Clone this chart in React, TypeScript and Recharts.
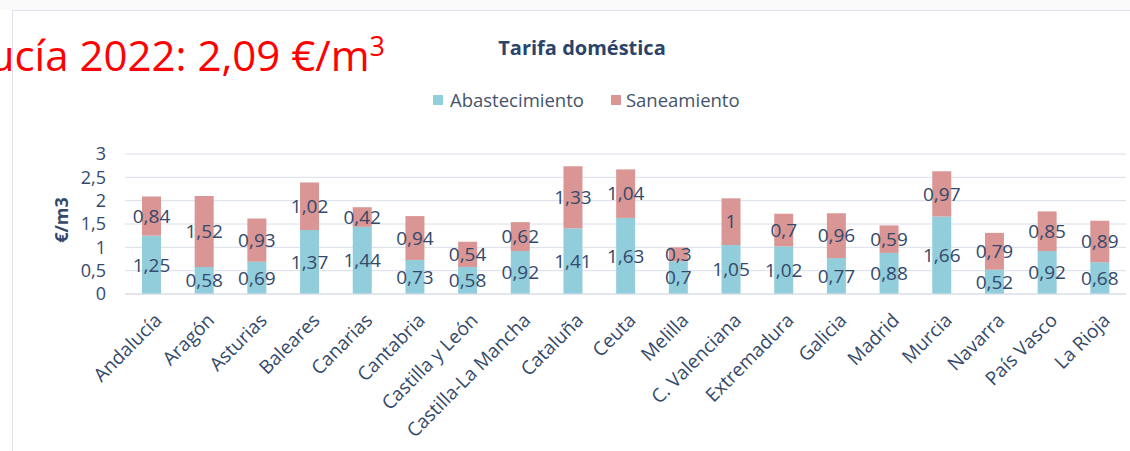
import React from "react";
import { Bar, BarChart, CartesianGrid, LabelList, Legend, XAxis, YAxis } from "recharts";

const regiones = [
  "Andalucía",
  "Aragón",
  "Asturias",
  "Baleares",
  "Canarias",
  "Cantabria",
  "Castilla y León",
  "Castilla-La Mancha",
  "Cataluña",
  "Ceuta",
  "Melilla",
  "C. Valenciana",
  "Extremadura",
  "Galicia",
  "Madrid",
  "Murcia",
  "Navarra",
  "País Vasco",
  "La Rioja",
];

const abastecimiento = [
  1.25, 0.58, 0.69, 1.37, 1.44, 0.73, 0.58, 0.92, 1.41, 1.63, 0.7, 1.05, 1.02,
  0.77, 0.88, 1.66, 0.52, 0.92, 0.68,
];

const saneamiento = [
  0.84, 1.52, 0.93, 1.02, 0.42, 0.94, 0.54, 0.62, 1.33, 1.04, 0.3, 1, 0.7,
  0.96, 0.59, 0.97, 0.79, 0.85, 0.89,
];

const yTicks = [0, 0.5, 1, 1.5, 2, 2.5, 3];

const AZUL = "#92cddc";
const ROSA = "#d99694";
const NAVY = "#34496b";
const FONT = "'Open Sans', sans-serif";

const data = regiones.map((region, i) => ({
  region,
  abastecimiento: abastecimiento[i],
  saneamiento: saneamiento[i],
}));

const coma = (v: any) => String(v).replace(".", ",");

const LegendContent = () => (
  <div
    style={{
      display: "flex",
      alignItems: "center",
      fontFamily: FONT,
      fontSize: 18.5,
      color: "#44546a",
      lineHeight: "22px",
    }}
  >
    <span style={{ width: 10, height: 10, background: AZUL, marginRight: 7 }} />
    <span style={{ marginRight: 27 }}>Abastecimiento</span>
    <span style={{ width: 10, height: 10, background: ROSA, marginRight: 5 }} />
    <span>Saneamiento</span>
  </div>
);

export default function App() {
  return (
    <div
      style={{
        position: "absolute",
        left: 0,
        top: 0,
        width: 1130,
        height: 451,
        background: "#fff",
        overflow: "hidden",
        fontFamily: FONT,
      }}
    >
      <div
        style={{
          position: "absolute",
          left: 0,
          top: 0,
          width: 1130,
          height: 10,
          background: "#fafafa",
        }}
      />
      <div
        style={{
          position: "absolute",
          left: 12,
          top: 10,
          width: 1130,
          height: 460,
          borderTop: "1px solid #dfe2ea",
          borderLeft: "1px solid #dfe2ea",
        }}
      />
      <BarChart
        width={1130}
        height={451}
        data={data}
        margin={{ top: 154, right: 4, bottom: 7, left: 0 }}
        barSize={19}
      >
        <CartesianGrid vertical={false} stroke="#d9dee8" />
        <XAxis
          dataKey="region"
          interval={0}
          height={150}
          axisLine={{ stroke: "#d9dee8" }}
          tickLine={false}
          tickMargin={12}
          angle={-45}
          textAnchor="end"
          tick={{ fill: NAVY, fontSize: 19, fontFamily: FONT, dx: 2 }}
        />
        <YAxis
          width={125}
          domain={[0, 3]}
          ticks={yTicks}
          interval={0}
          tickFormatter={coma}
          axisLine={false}
          tickLine={false}
          tickSize={6}
          tickMargin={13}
          tick={{ fill: NAVY, fontSize: 18, fontFamily: FONT }}
          label={{
            value: "€/m3",
            angle: -90,
            position: "center",
            dx: -1,
            dy: -4,
            fill: NAVY,
            fontSize: 18,
            fontWeight: 700,
            fontFamily: FONT,
          }}
        />
        <Legend
          verticalAlign="middle"
          align="center"
          wrapperStyle={{ top: 89, left: 433, width: 340 }}
          content={LegendContent}
        />
        <Bar dataKey="abastecimiento" name="Abastecimiento" stackId="t" fill={AZUL} isAnimationActive={false}>
          <LabelList
            dataKey="abastecimiento"
            position="center"
            formatter={coma}
            fill={NAVY}
            fontSize={19}
            fontFamily={FONT}
          />
        </Bar>
        <Bar dataKey="saneamiento" name="Saneamiento" stackId="t" fill={ROSA} isAnimationActive={false}>
          <LabelList
            dataKey="saneamiento"
            position="center"
            formatter={coma}
            fill={NAVY}
            fontSize={19}
            fontFamily={FONT}
          />
        </Bar>
      </BarChart>
      <div
        style={{
          position: "absolute",
          left: 432,
          top: 38,
          width: 300,
          textAlign: "center",
          fontSize: 20,
          fontWeight: 700,
          lineHeight: 1,
          color: "#2b4469",
        }}
      >
        Tarifa doméstica
      </div>
      <div
        style={{
          position: "absolute",
          right: 1130 - 385,
          top: 34,
          whiteSpace: "nowrap",
          fontSize: 42,
          lineHeight: 1,
          color: "#ff0000",
        }}
      >
        Andalucía 2022: 2,09 €/m
        <sup style={{ fontSize: 27, verticalAlign: "top", lineHeight: 1, position: "relative", top: -2 }}>3</sup>
      </div>
    </div>
  );
}
